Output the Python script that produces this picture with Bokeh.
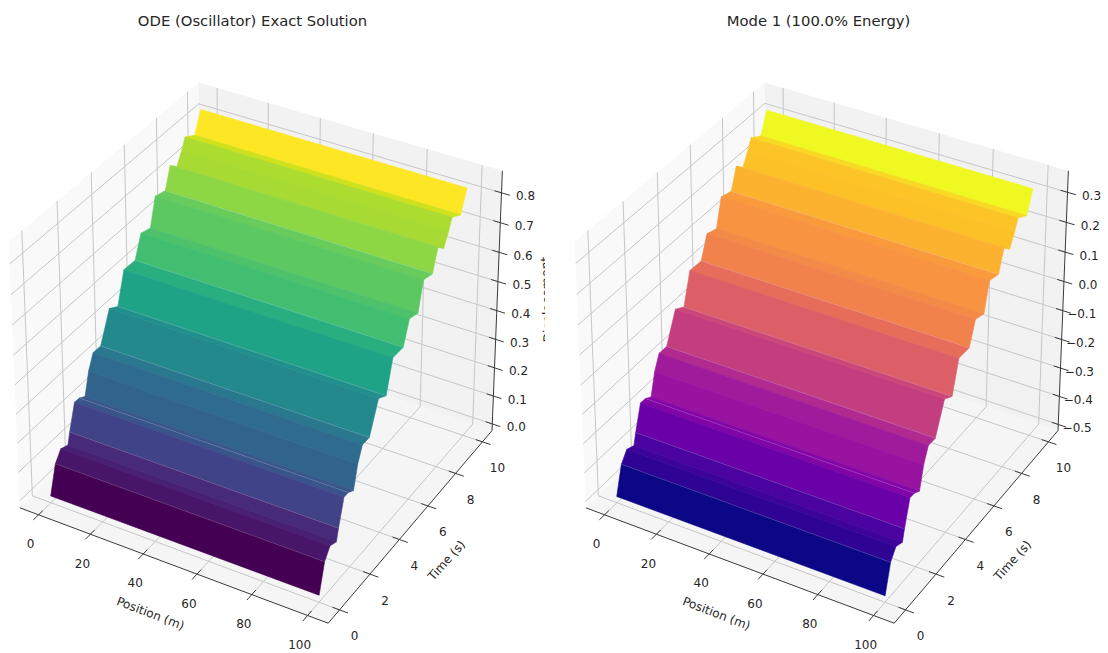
import numpy as np
from bokeh.plotting import figure
from bokeh.layouts import row
from bokeh.embed import file_html
from bokeh.resources import INLINE
from bokeh.core.properties import value
from bokeh.palettes import Viridis256, Plasma256

position_m = [0, 100]
time_s = [0, .333, .671, 1.09, 1.216, 1.549, 1.84, 2.175, 2.43, 2.72, 3.18, 3.755, 4.27, 4.68, 5.38, 5.77, 6.36, 6.69, 7.32, 7.66, 8.08, 8.40, 8.62, 9.25, 9.65]
exact_disp = [0, .094, .127, .1165, .155, .24, .239, .2265, .301, .349, .348, .447, .428, .533, .531, .605, .594, .687, .676, .746, .723, .764, .799, .777, .847]
mode1_disp = [-.5 + v * 0.995 for v in exact_disp]
band_level = [0, .06, .09, .12, .20, .26, .27, .32, .35, .40, .47, .50, .58, .63, .70, .72, .75, .77, .83, .85, .87, .88, .93, 1.0]
seam_times = [.333, 1.216, 1.84, 3.18, 4.27, 5.38, 7.32]
seam_disp = [.094, .155, .239, .348, .428, .531, .676]
x_ticks = [0, 20, 40, 60, 80, 100]
y_ticks = [0, 2, 4, 6, 8, 10]
z_ticks_exact = [0, .1, .2, .3, .4, .5, .6, .7, .8]
z_ticks_mode = [-.5, -.4, -.3, -.2, -.1, 0, .1, .2, .3]
xlim = (-7.29, 107.29)
ylim = (-.729, 10.729)
zlim_exact = (-.024, .873)
zlim_mode = (-.522, .371)

AX, AY, AZ = 1.1905, 1.1905, .8929
W = np.array([.433013, -.75, .5])
U = np.array([.866025, .5, 0])
V = np.array([-.25, .433013, .866025])
SX, SY, CY = 2967, 3400, 339.4


def make_proj(zlim, cx):
    def proj(x, y, z):
        q = np.array([((x - xlim[0]) / (xlim[1] - xlim[0]) - .5) * AX,
                      ((y - ylim[0]) / (ylim[1] - ylim[0]) - .5) * AY,
                      ((z - zlim[0]) / (zlim[1] - zlim[0]) - .5) * AZ])
        d = 10 - q @ W
        return cx + SX * (q @ U) / d, CY - SY * (q @ V) / d
    return proj


def path(proj, pts):
    out = [proj(*p) for p in pts]
    return [o[0] for o in out], [o[1] for o in out]


def panel(title, values, seam_z, zlim, zticks, palette, cx, x0, x1, zlabels, zname):
    proj = make_proj(zlim, cx)
    sh = cx - 259.8
    p = figure(width=x1 - x0, height=653, x_range=(x0, x1), y_range=(653, 0),
               output_backend="svg", toolbar_location=None, min_border=0,
               outline_line_color=None, background_fill_color="white", border_fill_color="white")
    p.axis.visible = False
    p.grid.visible = False
    a, b = xlim, ylim
    c = zlim
    walls = [
        ([(a[0], b[0], c[0]), (a[0], b[1], c[0]), (a[0], b[1], c[1]), (a[0], b[0], c[1])], "#f9f9f9"),
        ([(a[0], b[1], c[0]), (a[1], b[1], c[0]), (a[1], b[1], c[1]), (a[0], b[1], c[1])], "#f2f2f2"),
        ([(a[0], b[0], c[0]), (a[1], b[0], c[0]), (a[1], b[1], c[0]), (a[0], b[1], c[0])], "#f5f5f5"),
    ]
    for pts, col in walls:
        xs, ys = path(proj, pts)
        p.patch(xs, ys, fill_color=col, line_color=None)
    gl = []
    for t in x_ticks:
        gl.append(path(proj, [(t, b[0], c[0]), (t, b[1], c[0]), (t, b[1], c[1])]))
    for t in y_ticks:
        gl.append(path(proj, [(a[1], t, c[0]), (a[0], t, c[0]), (a[0], t, c[1])]))
    for t in zticks:
        gl.append(path(proj, [(a[1], b[1], t), (a[0], b[1], t), (a[0], b[0], t)]))
    p.multi_line([g[0] for g in gl], [g[1] for g in gl], line_color="#c6c6c6", line_width=1)

    # surface, far to near
    xs, ys, cols = [], [], []
    for i in range(len(values) - 2, -1, -1):
        gx, gy = path(proj, [(position_m[0], time_s[i], values[i]), (position_m[1], time_s[i], values[i]),
                             (position_m[1], time_s[i + 1], values[i + 1]), (position_m[0], time_s[i + 1], values[i + 1])])
        xs.append(gx)
        ys.append(gy)
        cols.append(palette[int(round(band_level[i] * 255))])
    p.patches(xs, ys, fill_color=cols, line_color=cols, line_width=.6)
    seams = [path(proj, [(position_m[0], t, z), (position_m[1], t, z)]) for t, z in zip(seam_times, seam_z)]
    p.multi_line([g[0] for g in seams], [g[1] for g in seams], line_color="white", line_alpha=.25, line_width=.7)

    # axis lines
    ax = [path(proj, [(a[0], b[0], c[0]), (a[1], b[0], c[0])]),
          path(proj, [(a[1], b[0], c[0]), (a[1], b[1], c[0])]),
          path(proj, [(a[1], b[1], c[0]), (a[1], b[1], c[1])])]
    p.multi_line([g[0] for g in ax], [g[1] for g in ax], line_color="#3a3a3a", line_width=1)
    txt = dict(text_font=value("DejaVu Sans"), text_color="#262626", text_baseline="middle")
    ticks = []
    for t in x_ticks:
        ticks.append(path(proj, [(t, b[0] + .25, c[0]), (t, b[0] - .3, c[0])]))
        q = proj(t, b[0], c[0])
        p.text([q[0] - 8], [q[1] + 29], text=[str(t)], text_font_size="12px", text_align="center", **txt)
    for t in y_ticks:
        ticks.append(path(proj, [(a[1] - 2.5, t, c[0]), (a[1] + 3, t, c[0])]))
        q = proj(a[1], t, c[0])
        p.text([q[0] + 15], [q[1] + 26], text=[str(t)], text_font_size="12px", text_align="center", **txt)
    for t, lab in zip(zticks, zlabels):
        ticks.append(path(proj, [(a[1] - 2.5, b[1], t), (a[1] + 3, b[1], t)]))
        q = proj(a[1], b[1], t)
        p.text([q[0] + 33.5], [q[1] + 3], text=[lab], text_font_size="12px", text_align="right", **txt)
    p.multi_line([g[0] for g in ticks], [g[1] for g in ticks], line_color="#3a3a3a", line_width=1)

    p.text([150 + sh], [613], text=["Position (m)"], angle=[-21], angle_units="deg",
           text_font_size="12px", text_align="center", **txt)
    p.text([446 + sh], [560], text=["Time (s)"], angle=[48], angle_units="deg",
           text_font_size="12px", text_align="center", **txt)
    if zname:
        p.text([546 + sh], [299], text=[zname], angle=[92], angle_units="deg",
               text_font_size="12.5px", text_align="center", **txt)
    p.text([252 + sh], [20], text=[title], text_font_size="14.8px", text_align="center", **txt)
    return p


p1 = panel("ODE (Oscillator) Exact Solution", exact_disp, seam_disp, zlim_exact, z_ticks_exact, Viridis256, 259.8, 0, 545,
           ["0.0", "0.1", "0.2", "0.3", "0.4", "0.5", "0.6", "0.7", "0.8"], "Displacement")
p2 = panel("Mode 1 (100.0% Energy)", mode1_disp, [-.5 + v * .995 for v in seam_disp], zlim_mode, z_ticks_mode, Plasma256, 825.8, 545, 1108,
           ["\u22120.5", "\u22120.4", "\u22120.3", "\u22120.2", "\u22120.1", "0.0", "0.1", "0.2", "0.3"], None)
layout = row(p1, p2, spacing=0, margin=0)
open("out.html", "w").write(file_html(layout, INLINE))
